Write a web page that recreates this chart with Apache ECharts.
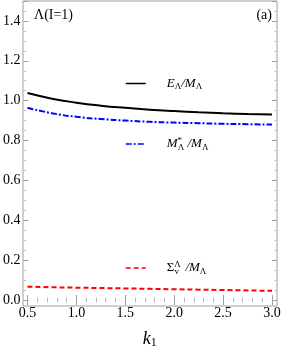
<!DOCTYPE html>
<html>
<head>
<meta charset="utf-8">
<script src="https://cdn.jsdelivr.net/npm/echarts@6/dist/echarts.min.js"></script>
<style>html,body{margin:0;padding:0;background:#fff}#c{width:284px;height:354px}</style>
</head>
<body>
<div id="c"></div>
<script>
var k1 = [0.5, 0.75, 1.0, 1.25, 1.5, 1.75, 2.0, 2.25, 2.5, 2.75, 3.0];
var eRatio = [1.038, 1.010, 0.990, 0.975, 0.964, 0.955, 0.948, 0.942, 0.937, 0.933, 0.930];
var mRatio = [0.964, 0.937, 0.919, 0.908, 0.900, 0.894, 0.890, 0.887, 0.884, 0.882, 0.880];
var sRatio = [0.067, 0.064, 0.062, 0.060, 0.058, 0.056, 0.054, 0.052, 0.050, 0.048, 0.046];
var seriesNames = ['E', 'M', 'S'];
var panelLabel = 'Λ(I=1)';
var panelTag = '(a)';

function pairs(ys) { return k1.map(function (x, i) { return [x, ys[i]]; }); }

var FONT = '"Liberation Serif","DejaVu Serif",serif';
var GREY = '#a0a0a0';
var LGREY = '#bdbdbd';
var rich = {
  sp: { width: 16, fontSize: 13, fontFamily: FONT },
  i: { fontFamily: FONT, fontStyle: 'italic', fontSize: 13, lineHeight: 16, color: '#000' },
  n: { fontFamily: FONT, fontSize: 13, lineHeight: 16, color: '#000' },
  s: { fontFamily: FONT, fontSize: 9, lineHeight: 9, verticalAlign: 'bottom', color: '#000' },
  sup: { fontFamily: FONT, fontSize: 9, lineHeight: 9, verticalAlign: 'top', width: 0.1, color: '#000' }
};
var legendText = {
  E: '{sp| }{i|E}{s|Λ}{i|/M}{s|Λ}',
  M: '{sp| }{i|M}{sup|*}{s|Λ}{i| /M}{s|Λ}',
  S: '{sp| }{n|Σ}{sup|Λ}{s|v}{i|  /M}{s|Λ}'
};
function mkLegend(name, top) {
  return {
    data: [name], left: 125, top: top, itemWidth: 20, itemHeight: 10,
    selectedMode: false, padding: 0,
    itemStyle: { opacity: 0, borderWidth: 0 },
    lineStyle: { width: 1.5 },
    formatter: function (n) { return legendText[n]; },
    textStyle: { rich: rich }
  };
}

var chart = echarts.init(document.getElementById('c'), null, { renderer: 'canvas' });
chart.setOption({
  animation: false,
  backgroundColor: '#fff',
  title: [
    { text: panelLabel, left: 34, top: 8, padding: 0, textStyle: { fontFamily: FONT, fontSize: 14, fontWeight: 'normal', color: '#000' } },
    { text: panelTag, right: 12, top: 8, padding: 0, textStyle: { fontFamily: FONT, fontSize: 14, fontWeight: 'normal', color: '#000' } }
  ],
  legend: [mkLegend('E', 77), mkLegend('M', 136), mkLegend('S', 260)],
  grid: [
    { left: 23, right: 7, top: 1, bottom: 48, show: true, borderColor: GREY, borderWidth: 1, backgroundColor: 'transparent' },
    { left: 27, right: 12, top: 1, bottom: 48 }
  ],
  xAxis: [
    { gridIndex: 1, type: 'value', position: 'bottom', min: 0.5, max: 3.0, interval: 0.5,
      axisLine: { show: false },
      axisTick: { inside: true, length: 5, lineStyle: { color: GREY } },
      minorTick: { show: true, splitNumber: 5, length: 2.5, lineStyle: { color: LGREY } },
      splitLine: { show: false },
      axisLabel: { margin: 6, color: '#000', fontFamily: FONT, fontSize: 14, formatter: function (v) { return v.toFixed(1); } },
      name: '{k|k}{o|1}', nameLocation: 'middle', nameGap: 29,
      nameTextStyle: { rich: {
        k: { fontFamily: FONT, fontStyle: 'italic', fontSize: 18, lineHeight: 20, color: '#000' },
        o: { fontFamily: FONT, fontSize: 12, lineHeight: 12, verticalAlign: 'bottom', color: '#000' } } } },
    { gridIndex: 1, type: 'value', position: 'top', min: 0.5, max: 3.0, interval: 0.5,
      axisLine: { show: false },
      axisTick: { inside: true, length: 5, lineStyle: { color: GREY } },
      minorTick: { show: true, splitNumber: 5, length: 2.5, lineStyle: { color: LGREY } },
      splitLine: { show: false }, axisLabel: { show: false } },
    { gridIndex: 0, type: 'value', show: false, min: 0, max: 1 }
  ],
  yAxis: [
    { gridIndex: 1, type: 'value', position: 'left', offset: 4, min: 0, max: 1.5, interval: 0.2,
      axisLine: { show: false },
      axisTick: { inside: true, length: 5, lineStyle: { color: GREY } },
      minorTick: { show: true, splitNumber: 4, length: 2.5, lineStyle: { color: LGREY } },
      splitLine: { show: false },
      axisLabel: { margin: 3, showMaxLabel: false, color: '#000', fontFamily: FONT, fontSize: 14, formatter: function (v) { return v.toFixed(1); } } },
    { gridIndex: 1, type: 'value', position: 'right', offset: 5, min: 0, max: 1.5, interval: 0.2,
      axisLine: { show: false },
      axisTick: { inside: true, length: 5, lineStyle: { color: GREY } },
      minorTick: { show: true, splitNumber: 4, length: 2.5, lineStyle: { color: LGREY } },
      splitLine: { show: false }, axisLabel: { show: false } },
    { gridIndex: 0, type: 'value', show: false, min: 0, max: 1 }
  ],
  series: [
    { name: seriesNames[0], type: 'line', xAxisIndex: 0, yAxisIndex: 0, data: pairs(eRatio), smooth: true, showSymbol: false, symbol: 'none',
      lineStyle: { color: '#000', width: 2 }, itemStyle: { color: '#000' } },
    { name: seriesNames[1], type: 'line', xAxisIndex: 0, yAxisIndex: 0, data: pairs(mRatio), smooth: true, showSymbol: false, symbol: 'none',
      lineStyle: { color: '#0000ff', width: 2, type: [6, 2, 2, 2] }, itemStyle: { color: '#0000ff' } },
    { name: seriesNames[2], type: 'line', xAxisIndex: 0, yAxisIndex: 0, data: pairs(sRatio), smooth: true, showSymbol: false, symbol: 'none',
      lineStyle: { color: '#ff0000', width: 2, type: [5, 3] }, itemStyle: { color: '#ff0000' } }
  ]
});
</script>
</body>
</html>
